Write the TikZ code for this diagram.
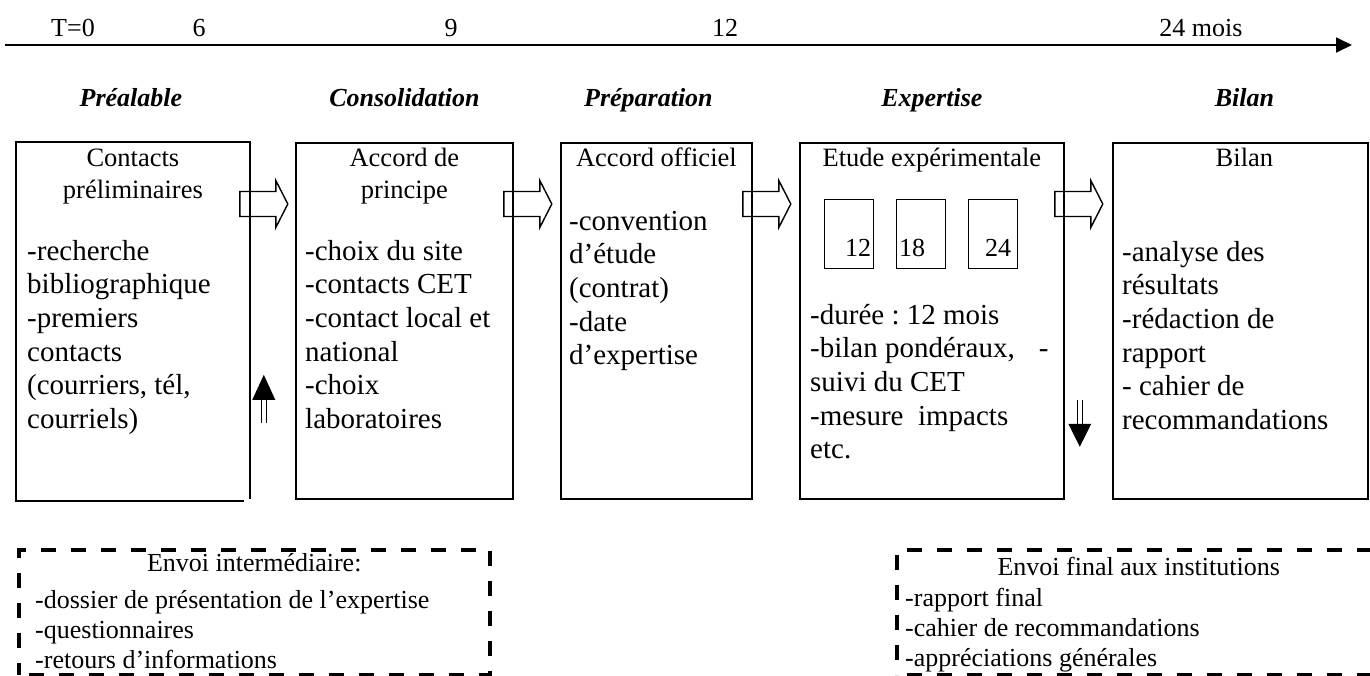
\documentclass[tikz,border=0pt]{standalone}
\usepackage{fontspec}
\setmainfont{Liberation Serif}
\usetikzlibrary{calc,arrows.meta}
\frenchspacing

\newcommand\txtbody{\fontsize{29}{33.6}\selectfont}
\newcommand\txthead{\fontsize{26.5}{32}\selectfont}
\newcommand\txtsend{\fontsize{26}{30}\selectfont}
\newcommand\topstrut{\rule{0pt}{24pt}}

\tikzset{
  stagebox/.style={draw, line width=1.8pt, inner sep=0pt, anchor=north west, minimum height=356pt},
  stagehead/.style={font=\txthead, align=center, inner sep=0pt, anchor=north},
  stagebody/.style={font=\txtbody, align=left, inner sep=0pt, anchor=north west},
  phase/.style={font=\fontsize{26}{30}\selectfont\bfseries\itshape, inner sep=0pt, anchor=base},
  timelabel/.style={font=\fontsize{26}{30}\selectfont, inner sep=0pt, anchor=base},
  monthbox/.style={draw, line width=1.2pt, inner sep=0pt, anchor=north west, minimum width=49pt, minimum height=69pt},
  monthnum/.style={font=\fontsize{26}{30}\selectfont, inner sep=0pt},
  hollow/.style={draw, line width=1.4pt, line join=miter},
  sendbox/.style={draw, line width=3.5pt, dash pattern=on 15pt off 15pt, dash phase=20pt, inner sep=0pt, anchor=north west, minimum height=125pt},
  sendtext/.style={font=\txtsend, inner sep=0pt},
  dblshaft/.style={double, double distance=3.6pt, line width=1.4pt},
}

\begin{document}
\begin{tikzpicture}[x=1pt,y=-1pt]
\useasboundingbox (0,0) rectangle (1370,675);

% time axis
\coordinate (tstart) at (5,45);
\coordinate (tend) at (1352,45);
\draw[line width=1.8pt, -{Triangle[length=16pt,width=15pt]}] (tstart) -- (tend);
\node[timelabel] (m0) at (73,36) {T=0};
\node[timelabel] (m6) at (199,36) {6};
\node[timelabel] (m9) at (451,36) {9};
\node[timelabel] (m12) at (725,36) {12};
\node[timelabel] (m24) at (1201,36) {24 mois};

% stage boxes
\node[stagebox, draw=none, minimum width=232pt] (b1) at (16,142) {};
\node[stagebox, minimum width=217pt] (b2) at (295,142) {};
\node[stagebox, minimum width=191pt] (b3) at (560,142) {};
\node[stagebox, minimum width=264pt] (b4) at (799,142) {};
\node[stagebox, minimum width=255pt] (b5) at (1112,142) {};
\draw[line width=1.8pt] ($(b1.south west)+(0,1)$) -- (b1.north west) -- (b1.north east) -- ($(b1.south east)+(0,-1)$);
\draw[line width=1.8pt] ($(b1.south west)+(-1,1)$) -- ($(b1.south east)+(-6,1)$);

% phase titles
\node[phase] (p1) at ($(b1.north)+(-2,-36)$) {Préalable};
\node[phase] (p2) at ($(b2.north)+(0,-36)$) {Consolidation};
\node[phase] (p3) at ($(b3.north)+(-8,-36)$) {Préparation};
\node[phase] (p4) at ($(b4.north)+(0,-36)$) {Expertise};
\node[phase] (p5) at ($(b5.north)+(4,-36)$) {Bilan};

% box headings
\node[stagehead] (h1) at (b1.north) {\topstrut Contacts\\préliminaires};
\node[stagehead] (h2) at (b2.north) {\topstrut Accord de\\principe};
\node[stagehead] (h3) at (b3.north) {\topstrut Accord officiel};
\node[stagehead] (h4) at (b4.north) {\topstrut Etude expérimentale};
\node[stagehead] (h5) at ($(b5.north)+(4,0)$) {\topstrut Bilan};

% box contents
\node[stagebody] (t1) at ($(b1.north west)+(11,94)$)
  {\topstrut-recherche\\bibliographique\\-premiers\\contacts\\(courriers, tél,\\courriels)};
\node[stagebody] (t2) at ($(b2.north west)+(10,94)$)
  {\topstrut-choix du site\\-contacts CET\\-contact local et\\national\\-choix\\laboratoires};
\node[stagebody] (t3) at ($(b3.north west)+(9,64)$)
  {\topstrut-convention\\d’étude\\(contrat)\\-date\\d’expertise};
\node[stagebody] (t4) at ($(b4.north west)+(11,158)$)
  {\topstrut-durée : 12 mois\\-bilan pondéraux,\hspace{24pt}-\\suivi du CET\\-mesure\ \ impacts\\etc.};
\node[stagebody] (t5) at ($(b5.north west)+(10,95)$)
  {\topstrut-analyse des\\résultats\\-rédaction de\\rapport\\- cahier de\\recommandations};

% sampling boxes inside the experimental stage
\node[monthbox] (s12) at ($(b4.north west)+(25,57)$) {};
\node[monthbox] (s18) at ($(b4.north west)+(97,57)$) {};
\node[monthbox] (s24) at ($(b4.north west)+(169,57)$) {};
\node[monthnum, anchor=base east] (n12) at ($(s12.north east)+(-3,57)$) {12};
\node[monthnum, anchor=base west] (n18) at ($(s18.north west)+(3,57)$) {18};
\node[monthnum, anchor=base east] (n24) at ($(s24.north east)+(-7,57)$) {24};

% hollow arrows from one stage to the next
\foreach \a in {b1,b2,b3,b4}{
  \draw[hollow] ($(\a.north east)+(-10,49.5)$) -- ++(36,0) -- ++(0,-11)
    -- ++(12,23.5) -- ++(-12,23.5) -- ++(0,-11) -- ++(-36,0) -- cycle;
}

% double-shaft arrows
\coordinate (upfoot) at ($(b1.south east)+(14,-77)$);
\coordinate (uptip) at ($(b1.south east)+(14,-125)$);
\draw[dblshaft] (upfoot) -- ++(0,-25);
\fill (uptip) -- ++(11.5,25) -- ++(-23,0) -- cycle;

\coordinate (downtop) at ($(b4.south east)+(15,-100)$);
\coordinate (downtip) at ($(b4.south east)+(15,-53)$);
\draw[dblshaft] (downtop) -- ++(0,25);
\fill (downtip) -- ++(11.5,-23) -- ++(-23,0) -- cycle;

% dispatch frames
\node[sendbox, minimum width=471pt] (d1) at (17,548) {};
\node[sendbox, minimum width=480pt] (d2) at (895,548) {};
\node[sendtext, anchor=base] (e1) at ($(d1.north)+(0,23)$) {Envoi intermédiaire:};
\node[sendtext, anchor=north west, align=left] (l1) at ($(d1.north west)+(18,36)$)
  {\topstrut-dossier de présentation de l’expertise\\-questionnaires\\-retours d’informations};
\node[sendtext, anchor=base] (e2) at ($(d2.north)+(2,27)$) {Envoi final aux institutions};
\node[sendtext, anchor=north west, align=left] (l2) at ($(d2.north west)+(10,34)$)
  {\topstrut-rapport final\\-cahier de recommandations\\-appréciations générales};
\end{tikzpicture}
\end{document}
